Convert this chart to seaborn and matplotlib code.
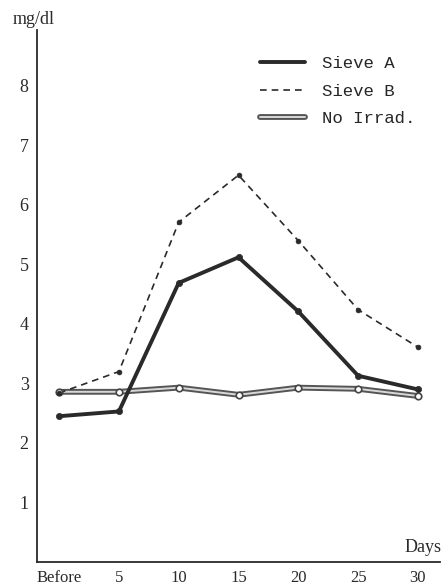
import matplotlib
matplotlib.use("Agg")
import matplotlib.pyplot as plt
import matplotlib.patheffects as pe
from matplotlib.lines import Line2D
import seaborn as sns
import pandas as pd

days = ["Before", "5", "10", "15", "20", "25", "30"]
sieve_a = [2.45, 2.53, 4.69, 5.12, 4.21, 3.13, 2.90]
sieve_b = [2.84, 3.20, 5.71, 6.50, 5.40, 4.24, 3.61]
no_irrad = [2.86, 2.86, 2.93, 2.81, 2.93, 2.91, 2.79]
y_ticks = [1, 2, 3, 4, 5, 6, 7, 8]

sns.set_style("white")
plt.rcParams['font.family'] = ['Liberation Serif', 'DejaVu Serif']

pos = list(range(len(days)))
df = pd.DataFrame({"pos": pos, "A": sieve_a, "B": sieve_b, "N": no_irrad})

fig = plt.figure(figsize=(4.47, 5.87), dpi=100)
ax = fig.add_axes([37/447, 25/587, 403/447, 532/587])

ink = "#2a2a2a"
double_fx = [pe.Stroke(linewidth=4.2, foreground="#555555"), pe.Normal()]

# No Irrad (double line)
sns.lineplot(data=df, x="pos", y="N", ax=ax, color="#d8d8d8", lw=1.4,
             path_effects=double_fx, zorder=2)
sns.scatterplot(data=df, x="pos", y="N", ax=ax, s=22, color="white",
                edgecolor="#444444", linewidth=1.2, zorder=5)
# Sieve B (dashed)
sns.lineplot(data=df, x="pos", y="B", ax=ax, color=ink, lw=1.2,
             linestyle=(0, (4, 3)), zorder=3)
sns.scatterplot(data=df, x="pos", y="B", ax=ax, s=12, color=ink,
                edgecolor=ink, linewidth=0.5, zorder=5)
# Sieve A (thick solid)
sns.lineplot(data=df, x="pos", y="A", ax=ax, color=ink, lw=2.8, zorder=4)
sns.scatterplot(data=df, x="pos", y="A", ax=ax, s=20, color=ink,
                edgecolor=ink, linewidth=0.5, zorder=6)

ax.set_xlim(-0.37, 6.37)
ax.set_ylim(0, 8.94)
ax.set_xticks(pos)
ax.set_xticklabels(days, fontsize=12)
ax.set_yticks(y_ticks)
ax.set_yticklabels([str(v) for v in y_ticks], fontsize=13)
ax.set_xlabel("")
ax.set_ylabel("")
for s in ["top", "right"]:
    ax.spines[s].set_visible(False)
for s in ["left", "bottom"]:
    ax.spines[s].set_color(ink)
    ax.spines[s].set_linewidth(1.3)
ax.tick_params(axis="both", direction="inout", length=6, width=1.0,
               colors=ink, pad=3)
ax.grid(False)

ax.text(1.005, 0.012, "Days", transform=ax.transAxes, ha="right", va="bottom",
        fontsize=13, color=ink)
fig.text(13/447, 1 - 20/587, "mg/dl", ha="left", va="center", fontsize=13,
         color=ink)

handles = [
    Line2D([], [], color=ink, lw=2.8),
    Line2D([], [], color=ink, lw=1.2, linestyle=(0, (4, 3))),
    Line2D([], [], color="#d8d8d8", lw=1.4, path_effects=double_fx),
]
ax.legend(handles, ["Sieve A", "Sieve B", "No Irrad."], loc="upper left",
          bbox_to_anchor=((260 - 37) / 403, (562 - 56) / 532), frameon=False,
          prop={"family": "Liberation Mono", "size": 12.5},
          borderaxespad=0, borderpad=0,
          handlelength=2.6, handletextpad=1.0, labelspacing=0.72)

fig.savefig("out.png", dpi=100, facecolor="white")
